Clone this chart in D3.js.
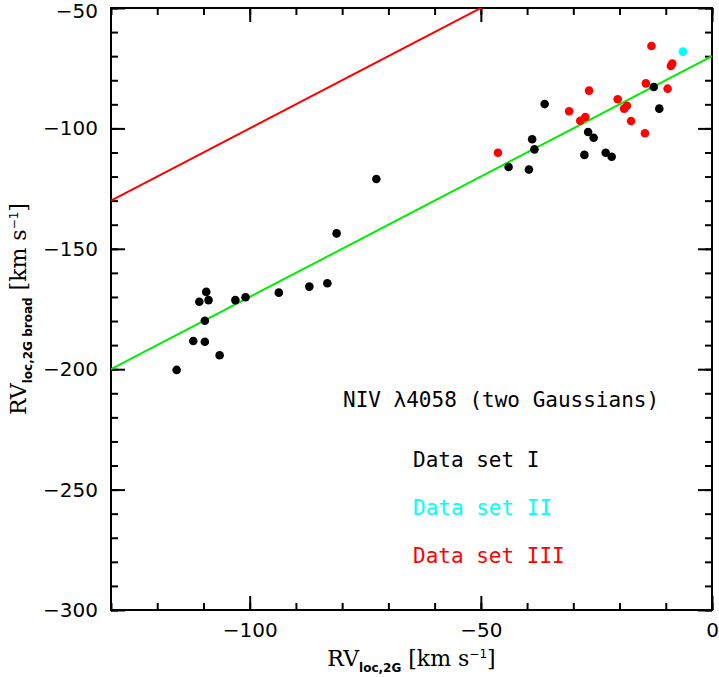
<!DOCTYPE html>
<html>
<head>
<meta charset="utf-8">
<script src="https://cdn.jsdelivr.net/npm/d3@7"></script>
<style>
  body { margin: 0; background: #fff; }
  svg { display: block; }
  .tick text { font-family: "DejaVu Sans", sans-serif; font-size: 20px; fill: #000; }
  .tick line { stroke: #000; stroke-width: 2; }
  .note { font-family: "DejaVu Sans Mono", monospace; font-size: 21px; }
</style>
</head>
<body>
<script>
// Data set I (black)
const set1X = [-115.8, -112.2, -109.7, -106.5, -110.9, -109.4, -108.9, -109.7, -103.1, -100.9, -93.7, -87.1, -83.2,
               -81.2, -72.6,
               -44.0, -39.6, -38.9, -38.4, -36.2, -27.6, -26.8, -25.6, -23.0, -21.7, -12.6, -11.4];
const set1Y = [-200.3, -188.3, -188.6, -194.2, -172.0, -167.9, -171.3, -179.9, -171.3, -170.1, -168.2, -165.7, -164.3,
               -143.6, -121.0,
               -116.0, -117.1, -104.5, -108.7, -89.9, -111.0, -101.5, -103.9, -110.1, -111.8, -82.8, -91.8];

// Data set II (cyan)
const set2X = [-6.3];
const set2Y = [-68.1];

// Data set III (red)
const set3X = [-46.3, -30.9, -28.5, -27.4, -26.6, -20.4, -19.0, -18.4, -17.5, -14.5, -14.3, -13.1, -9.6, -8.9, -8.6];
const set3Y = [-110.1, -92.9, -96.8, -95.3, -84.3, -87.9, -91.8, -90.6, -96.9, -102.0, -81.3, -65.8, -83.5, -74.1, -73.1];

// reference lines (data units): one-to-one and offset fit
const oneToOneX = [-130, 0];
const oneToOneY = [-130, 0];
const fitX = [-130, 0];
const fitY = [-200, -70];

// axis ticks
const xMajor = [-100, -50, 0];
const xMinor = d3.range(-130, 1, 10);
const yMajor = [-50, -100, -150, -200, -250, -300];
const yMinor = d3.range(-300, -49, 10);

const margin = { top: 8, right: 7, bottom: 67, left: 111 };
const W = 719, H = 677;
const width = W - margin.left - margin.right;
const height = H - margin.top - margin.bottom;

const svg = d3.select('body').append('svg')
    .attr('width', W)
    .attr('height', H);

const g = svg.append('g')
    .attr('transform', `translate(${margin.left},${margin.top})`);

const x = d3.scaleLinear().domain([-130, 0]).range([0, width]);
const y = d3.scaleLinear().domain([-300, -50]).range([height, 0]);

const fmt = d => d < 0 ? '\u2212' + Math.abs(d) : String(d);

// axes: minor then major ticks, all pointing inward
const addAxis = (axis, transform) => {
    const a = g.append('g').attr('transform', transform).call(axis);
    a.select('.domain').remove();
    return a;
};

addAxis(d3.axisBottom(x).tickValues(xMinor).tickSize(-7).tickFormat(''), `translate(0,${height})`);
addAxis(d3.axisBottom(x).tickValues(xMajor).tickSize(-14).tickPadding(13).tickFormat(fmt), `translate(0,${height})`);
addAxis(d3.axisTop(x).tickValues(xMinor).tickSize(-7).tickFormat(''), 'translate(0,0)');
addAxis(d3.axisTop(x).tickValues(xMajor).tickSize(-14).tickFormat(''), 'translate(0,0)');

const yLab = addAxis(d3.axisLeft(y).tickValues(yMajor).tickSize(-14).tickPadding(13).tickFormat(fmt), 'translate(0,0)');
addAxis(d3.axisLeft(y).tickValues(yMinor).tickSize(-7).tickFormat(''), 'translate(0,0)');
addAxis(d3.axisRight(y).tickValues(yMinor).tickSize(-7).tickFormat(''), `translate(${width},0)`);
addAxis(d3.axisRight(y).tickValues(yMajor).tickSize(-14).tickFormat(''), `translate(${width},0)`);
// keep the top label inside the page
yLab.selectAll('text').filter(d => d === -50).attr('dy', '0.45em');

// frame
g.append('rect')
    .attr('width', width)
    .attr('height', height)
    .attr('fill', 'none')
    .attr('stroke', '#000')
    .attr('stroke-width', 2);

// clip for lines
svg.append('defs').append('clipPath').attr('id', 'clip')
    .append('rect').attr('width', width).attr('height', height);

const line = d3.line().x(d => x(d[0])).y(d => y(d[1]));

g.append('path')
    .attr('clip-path', 'url(#clip)')
    .attr('d', line(d3.zip(oneToOneX, oneToOneY)))
    .attr('fill', 'none')
    .attr('stroke', '#ff0000')
    .attr('stroke-width', 2);

g.append('path')
    .attr('clip-path', 'url(#clip)')
    .attr('d', line(d3.zip(fitX, fitY)))
    .attr('fill', 'none')
    .attr('stroke', '#00ee00')
    .attr('stroke-width', 2);

// points
const drawSet = (xs, ys, color) => {
    g.append('g').selectAll('circle')
        .data(d3.zip(xs, ys))
        .enter()
        .append('circle')
        .attr('cx', d => x(d[0]))
        .attr('cy', d => y(d[1]))
        .attr('r', 4.3)
        .attr('fill', color);
};
drawSet(set1X, set1Y, '#000');
drawSet(set2X, set2Y, '#00ffff');
drawSet(set3X, set3Y, '#ff0000');

// annotations
const notes = [
    { text: 'NIV \u03bb4058 (two Gaussians)', color: '#000', x: 232, y: 399 },
    { text: 'Data set I', color: '#000', x: 302, y: 459 },
    { text: 'Data set II', color: '#00ffff', x: 302, y: 507 },
    { text: 'Data set III', color: '#ff0000', x: 302, y: 555 }
];
g.selectAll('.note')
    .data(notes)
    .enter()
    .append('text')
    .attr('class', 'note')
    .attr('x', d => d.x)
    .attr('y', d => d.y)
    .attr('fill', d => d.color)
    .text(d => d.text);

// axis titles
const axisTitle = (sel, sub) => {
    sel.attr('font-family', '"DejaVu Serif", "Liberation Serif", serif')
        .attr('font-size', 22)
        .attr('text-anchor', 'middle');
    sel.append('tspan').text('RV');
    sel.append('tspan')
        .attr('font-family', '"DejaVu Sans", sans-serif')
        .attr('font-weight', 'bold')
        .attr('font-size', 12)
        .attr('dy', 6)
        .text(sub);
    sel.append('tspan').attr('dy', -6).text(' [km s');
    sel.append('tspan')
        .attr('font-family', '"DejaVu Sans", sans-serif')
        .attr('font-size', 12)
        .attr('dy', -8)
        .text('\u22121');
    sel.append('tspan').attr('dy', 8).text(']');
};

svg.append('text')
    .attr('x', margin.left + width / 2)
    .attr('y', 666)
    .call(axisTitle, 'loc,2G');

svg.append('text')
    .attr('transform', `translate(26,${margin.top + height / 2}) rotate(-90)`)
    .call(axisTitle, 'loc,2G broad');
</script>
</body>
</html>
